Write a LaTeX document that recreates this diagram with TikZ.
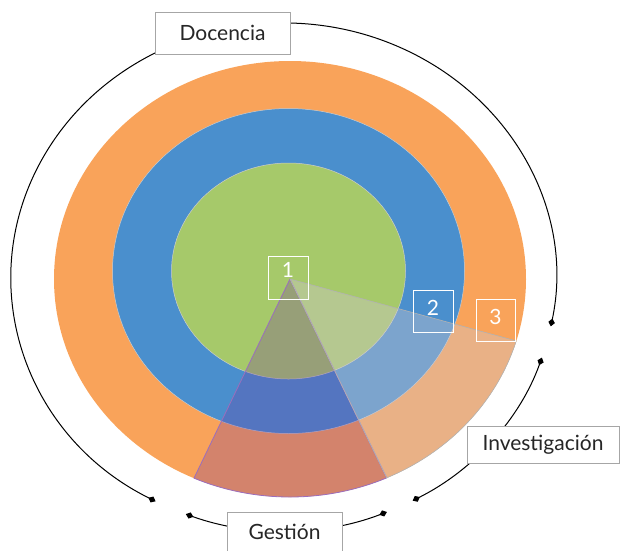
\documentclass[tikz,border=0pt]{standalone}
\usepackage{fontspec}
\setmainfont{Lato}
\usetikzlibrary{arrows.meta,calc}
\definecolor{ringorange}{HTML}{F9A35A}
\definecolor{ringblue}{HTML}{4A8FCD}
\definecolor{ringgreen}{HTML}{A6C96A}
\definecolor{gestpurple}{HTML}{7030A0}
\definecolor{invgray}{HTML}{CFC8CF}
\definecolor{labelgray}{HTML}{A6A6A6}

\begin{document}
\begin{tikzpicture}[%
      x=1pt, y=-1pt,
      ring/.style={draw=black!20, line width=0.5pt},
      labelbox/.style={draw=labelgray, line width=0.9pt, fill=white, inner sep=0pt,
        text=black!85, font=\fontsize{21}{24}\selectfont},
      numbox/.style={draw=white, line width=0.9pt, inner sep=0pt, text=white,
        font=\fontsize{21}{24}\selectfont, text height=15pt},
      bracket/.style={black, line width=1pt,
        arrows={Diamond[length=8pt,width=6.5pt]-Diamond[length=8pt,width=6.5pt]}},
      ]
      \useasboundingbox (0,0) rectangle (621,550);

      \coordinate (mid) at (288.5,271);
      \coordinate (apex) at (290,279);
      \coordinate (hub) at (283.5,277);

      \fill [fill=ringorange] (apex) ellipse [x radius=236, y radius=218];
      \filldraw [ring, fill=ringblue] (mid) ellipse [x radius=176, y radius=162.5];
      \filldraw [ring, fill=ringgreen] (mid) ellipse [x radius=117, y radius=108];

      \filldraw [fill=gestpurple, fill opacity=0.27, draw=gestpurple!70, line width=0.8pt]
        (apex) -- +(114:236 and 218)
        arc [start angle=114, end angle=65.8, x radius=236, y radius=218] -- cycle;
      \filldraw [fill=invgray, fill opacity=0.38, draw=black!30, line width=0.6pt]
        (apex) -- +(65.8:236 and 218)
        arc [start angle=65.8, end angle=16.5, x radius=236, y radius=218] -- cycle;

      \node [numbox, minimum width=40, minimum height=43, text depth=16pt] (num1) at (288,277.5) {1};
      \node [numbox, minimum width=40, minimum height=42, text depth=6pt] (num2) at (433,311) {2};
      \node [numbox, minimum width=39, minimum height=42, text depth=6pt] (num3) at (495.5,320) {3};

      \draw [bracket] ($(hub)+(118:272.5 and 254)$)
        arc [start angle=118, end angle=371.2, x radius=272.5, y radius=254];
      \draw [bracket] ($(hub)+(111:272.5 and 254)$)
        arc [start angle=111, end angle=67.7, x radius=272.5, y radius=254];
      \draw [bracket] ($(hub)+(18.5:272.5 and 254)$)
        arc [start angle=18.5, end angle=61.7, x radius=272.5, y radius=254];

      \node [labelbox, minimum width=135, minimum height=42] (docencia) at (222.5,33) {Docencia};
      \node [labelbox, minimum width=152, minimum height=37] (investigacion) at (543,444.5) {Investigación};
      \node [labelbox, minimum width=115, minimum height=40] (gestion) at (284.5,532) {Gestión};
      \end{tikzpicture}
\end{document}
